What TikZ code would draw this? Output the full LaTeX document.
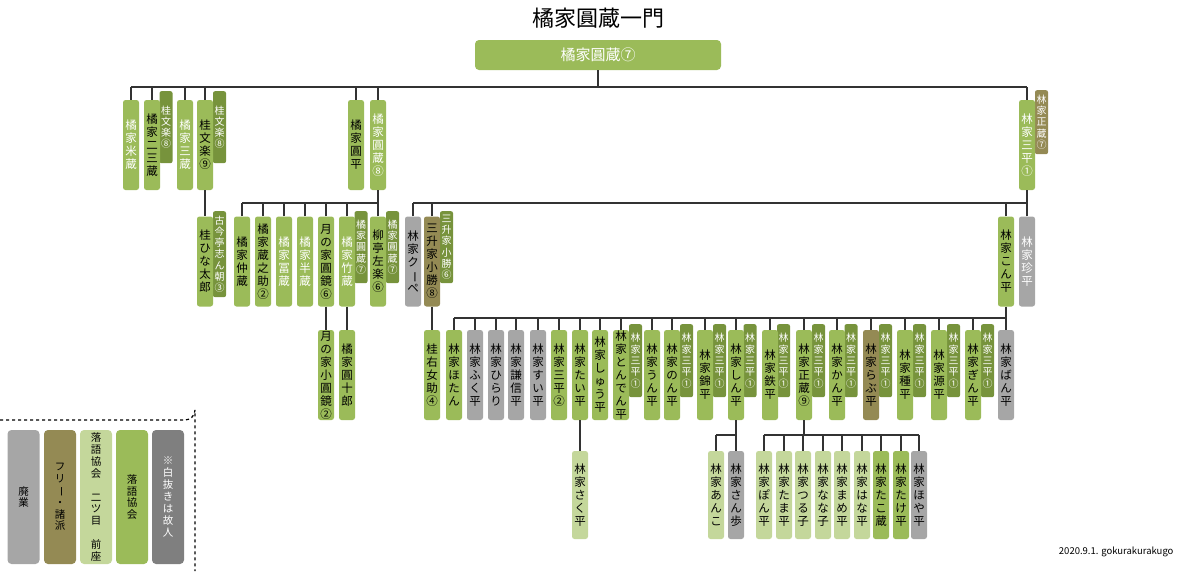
\documentclass[tikz,border=0pt]{standalone}
\usepackage{fontspec}
\setmainfont{Noto Sans CJK JP}
\usepackage{graphicx}
\usetikzlibrary{positioning}
\definecolor{kyokai}{HTML}{9BBB59}
\definecolor{tabgreen}{HTML}{77933C}
\definecolor{futatsu}{HTML}{C4D79B}
\definecolor{haigyo}{HTML}{A6A6A6}
\definecolor{freecol}{HTML}{948A54}
\definecolor{kojin}{HTML}{7F7F7F}
\definecolor{line}{HTML}{333333}
% vertical text, one character per line
\newcommand\vt[1]{\vbox{\baselineskip=1.13em\lineskiplimit=-20pt\vtA#1\relax}}
\def\vtA#1{\ifx#1\relax\else\vtC{#1}\expandafter\vtA\fi}
\def\vtC#1{\hbox to 1em{\hss\ifx#1ー\rotatebox[origin=c]{-90}{ー}\else#1\fi\hss}}
\newcommand\vtx[1]{\expandafter\vt\expandafter{#1}}
\tikzset{%
  % styles for the members
          base/.style = {rectangle, rounded corners=2.5, inner sep=0,
                         minimum width=16, minimum height=90,
                         font=\fontsize{11.5}{12}\selectfont},
        member/.style = {base, fill=kyokai},
       haigyou/.style = {base, fill=haigyo},
       freeist/.style = {base, fill=freecol},
     futatsume/.style = {base, fill=futatsu},
          dead/.style = {text=white},
           tab/.style = {rectangle, rounded corners=2, inner sep=0, anchor=north,
                         minimum width=13, minimum height=72, fill=tabgreen,
                         text=white, font=\fontsize{10}{11}\selectfont},
        legend/.style = {base, minimum width=32, minimum height=134, rounded corners=4,
                         font=\fontsize{10.5}{11}\selectfont},
          conn/.style = {draw=line, line width=1.5},
}
\begin{document}
\begin{tikzpicture}[x=1pt, y=-1pt]
  \useasboundingbox (0,0) rectangle (1200,571);

  \node (title) at (598,18) {\fontsize{22}{24}\selectfont 橘家圓蔵一門};
  \node (enzo7) [member, dead, minimum width=246, minimum height=30,
      rounded corners=4, font=\fontsize{15}{16}\selectfont] at (598,55) {橘家圓蔵⑦};

  % first generation
  \node (tBunrakuA) [tab] at (166,91) {\vt{桂文楽⑧}};
  \node (tBunrakuB) [tab] at (219.5,91) {\vt{桂文楽⑧}};
  \node (tShozo7) [tab, fill=freecol, minimum height=64] at (1041.5,90) {\vt{林家正蔵⑦}};
  \node (yonezo)   [member, dead] at (131,145) {\vt{橘家米蔵}};
  \node (fumizo)   [member] at (152,145) {\vt{橘家二三蔵}};
  \node (sanzo)    [member, dead] at (185,145) {\vt{橘家三蔵}};
  \node (bunraku9) [member] at (205,145) {\vt{桂文楽⑨}};
  \node (enpei)    [member] at (356,145) {\vt{橘家圓平}};
  \node (enzo8)    [member, dead] at (378,145) {\vt{橘家圓蔵⑧}};
  \node (sanpei1)  [member, dead] at (1027,145) {\vt{林家三平①}};

  \coordinate (bar1) at (0,87);
  \draw[conn] (enzo7.south) -- (enzo7.south |- bar1);
  \draw[conn] (yonezo.north |- bar1) -- (sanpei1.north |- bar1);
  \foreach \nm in {yonezo,fumizo,sanzo,bunraku9,enpei,enzo8,sanpei1}
    \draw[conn] (\nm.north) -- (\nm.north |- bar1);

  % second generation
  \node (tShincho) [tab, minimum height=86] at (219.5,211) {\vt{古今亭志ん朝③}};
  \node (tEnzoA) [tab] at (361,211) {\vt{橘家圓蔵⑦}};
  \node (tEnzoB) [tab] at (392.5,211) {\vt{橘家圓蔵⑦}};
  \node (tKoshou) [tab] at (446.5,211) {\vt{三升家小勝⑥}};
  \node (hinataro)   [member] at (205,261.5) {\vt{桂ひな太郎}};
  \node (nakazo)     [member] at (242,261.5) {\vt{橘家仲蔵}};
  \node (kuranosuke) [member] at (263,261.5) {\vt{橘家蔵之助②}};
  \node (tomizo)     [member, dead] at (284,261.5) {\vt{橘家冨蔵}};
  \node (hanzo)      [member, dead] at (305,261.5) {\vt{橘家半蔵}};
  \node (enkyo6)     [member] at (326,261.5) {\vt{月の家圓鏡⑥}};
  \node (takezo)     [member, dead] at (347,261.5) {\vt{橘家竹蔵}};
  \node (saraku)     [member] at (378,261.5) {\vt{柳亭左楽⑥}};
  \node (kupe)       [haigyou] at (413,261.5) {\vt{林家クーペ}};
  \node (koshou8)    [freeist] at (432,261.5) {\vt{三升家小勝⑧}};
  \node (konpei)     [member] at (1006,261.5) {\vt{林家こん平}};
  \node (chinpei)    [haigyou, dead] at (1027,261.5) {\vt{林家珍平}};

  \draw[conn] (bunraku9) -- (hinataro);
  \coordinate (bar2) at (0,203);
  \draw[conn] (enzo8.south) -- (enzo8.south |- bar2);
  \draw[conn] (nakazo.north |- bar2) -- (saraku.north |- bar2);
  \foreach \nm in {nakazo,kuranosuke,tomizo,hanzo,enkyo6,takezo,saraku}
    \draw[conn] (\nm.north) -- (\nm.north |- bar2);
  \draw[conn] (sanpei1.south) -- (sanpei1.south |- bar2);
  \draw[conn] (kupe.north |- bar2) -- (chinpei.north |- bar2);
  \foreach \nm in {kupe,koshou8,konpei,chinpei}
    \draw[conn] (\nm.north) -- (\nm.north |- bar2);

  % third generation
  \node (kokyo)   [member] at (326,375) {\vt{月の家小圓鏡②}};
  \node (enjuro)  [member] at (347,375) {\vt{橘家圓十郎}};
  \node (umesuke) [member] at (432,375) {\vt{桂右女助④}};
  \draw[conn] (enkyo6) -- (kokyo);
  \draw[conn] (takezo) -- (enjuro);
  \draw[conn] (koshou8) -- (umesuke);

  \foreach \x in {635.5,686.5,719.5,750,783.5,818.5,851,885.5,919.5,953.5,987.5}
    \node [tab, minimum height=73] at (\x,324) {\vt{林家三平①}};
  \foreach \nm/\x/\txt/\sty in {
      hotan/454/林家ほたん/member, fukuhei/475/林家ふく平/haigyou,
      hirari/496/林家ひらり/haigyou, kenshin/516/林家謙信平/haigyou,
      suihei/538/林家すい平/haigyou, sanpei2/559/林家三平②/member,
      taihei/580/林家たい平/member, shuhei/600/林家しゅう平/member,
      tonden/621/林家とんでん平/member, unpei/652/林家うん平/member,
      nonpei/672/林家のん平/member, kinpei/705/林家錦平/member,
      shinpei/736/林家しん平/member, teppei/770/林家鉄平/member,
      shozo9/804/林家正蔵⑨/member, kanpei/837/林家かん平/member,
      rabupei/871/林家らぶ平/freeist, tanepei/905/林家種平/member,
      genpei/939/林家源平/member, ginpei/973/林家ぎん平/member,
      banpei/1006/林家ばん平/haigyou}
    \node (\nm) [\sty] at (\x,375) {\vtx{\txt}};
  \coordinate (bar3) at (0,318);
  \draw[conn] (konpei.south) -- (konpei.south |- bar3);
  \draw[conn] (hotan.north |- bar3) -- (banpei.north |- bar3);
  \foreach \nm in {hotan,fukuhei,hirari,kenshin,suihei,sanpei2,taihei,shuhei,
      tonden,unpei,nonpei,kinpei,shinpei,teppei,shozo9,kanpei,rabupei,
      tanepei,genpei,ginpei,banpei}
    \draw[conn] (\nm.north) -- (\nm.north |- bar3);

  % fourth generation
  \node (sakuhei) [futatsume, minimum height=88] at (580,495) {\vt{林家さく平}};
  \draw[conn] (taihei) -- (sakuhei);
  \foreach \nm/\x/\txt/\sty in {
      anko/716/林家あんこ/futatsume, sanpo/736/林家さん歩/haigyou,
      ponpei/764/林家ぽん平/futatsume, tamahei/784/林家たま平/futatsume,
      tsuruko/803/林家つる子/futatsume, nanako/823/林家なな子/futatsume,
      mamehei/842/林家まめ平/futatsume, hanahei/862/林家はな平/futatsume,
      takozo/881/林家たこ蔵/member, takehei/901/林家たけ平/member,
      hoyahei/919/林家ほや平/haigyou}
    \node (\nm) [\sty, minimum height=88] at (\x,495) {\vtx{\txt}};
  \coordinate (bar4) at (0,435);
  \draw[conn] (shinpei.south) -- (shinpei.south |- bar4);
  \draw[conn] (anko.north |- bar4) -- (sanpo.north |- bar4);
  \draw[conn] (shozo9.south) -- (shozo9.south |- bar4);
  \draw[conn] (ponpei.north |- bar4) -- (hoyahei.north |- bar4);
  \foreach \nm in {anko,sanpo,ponpei,tamahei,tsuruko,nanako,mamehei,hanahei,
      takozo,takehei,hoyahei}
    \draw[conn] (\nm.north) -- (\nm.north |- bar4);

  % legend
  \draw[line width=1.2, dashed] (0,420) -- (185,420) arc[start angle=90, end angle=0, radius=10] -- (195,571);
  \node (lgHaigyo) [legend, fill=haigyo] at (23.5,497) {\vt{廃業}};
  \node (lgFree)   [legend, fill=freecol] at (60,497) {\vt{フリー・諸派}};
  \node (lgFuta)   [legend, fill=futatsu] at (96,497) {\vt{落語協会　二ツ目　前座}};
  \node (lgKyokai) [legend, fill=kyokai] at (132,497) {\vt{落語協会}};
  \node (lgKojin)  [legend, fill=kojin, dead] at (168,497) {\vt{※白抜きは故人}};

  \node (credit) [anchor=east, font=\fontsize{9.5}{10}\selectfont] at (1177,552) {2020.9.1. gokurakurakugo};
\end{tikzpicture}
\end{document}
